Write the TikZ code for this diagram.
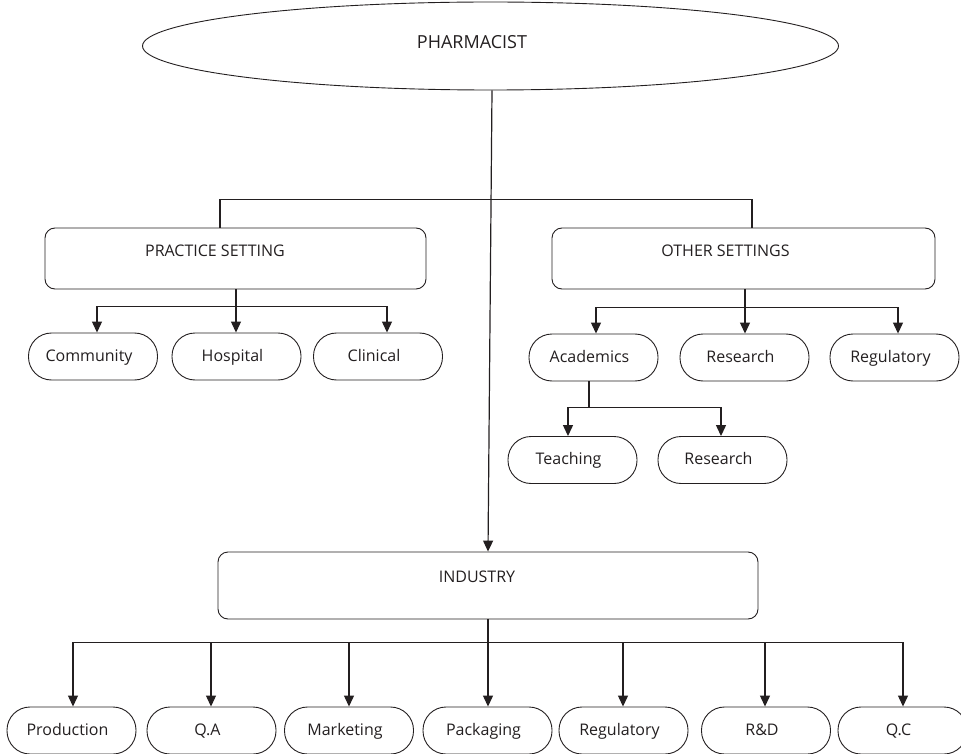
\documentclass[tikz,border=0pt]{standalone}
\usepackage{fontspec}
\setmainfont{Open Sans}
\usetikzlibrary{shapes.geometric,arrows.meta}
\definecolor{ink}{HTML}{231F20}
\begin{document}
\begin{tikzpicture}[x=1pt,y=-1pt,
  font=\fontsize{16}{19}\selectfont,
  every node/.style={text=ink},
  oval/.style={draw=ink,line width=0.9pt,ellipse,inner sep=0pt,minimum width=696pt,minimum height=88pt},
  bigbox/.style={draw=ink,line width=0.9pt,rounded corners=10pt,inner sep=0pt,minimum height=61pt},
  pill/.style={draw=ink,line width=0.9pt,rounded corners=23pt,inner sep=0pt,
    minimum width=129pt,minimum height=47pt,text height=12pt,text depth=3pt,
    execute at end node={\hspace*{8pt}}},
  lbl/.style={inner sep=0pt},
  conn/.style={draw=ink,line width=1.2pt},
  arr/.style={conn,-{Triangle[width=10pt,length=11pt]}}
]
\useasboundingbox (0,0) rectangle (961,754);

% top level
\node[oval] (pharm) at (490.5,46) {};
\node[lbl,font=\fontsize{18}{21}\selectfont] (pharmtxt) at (472,42.5) {PHARMACIST};

% second level boxes
\node[bigbox,minimum width=381pt] (practice) at (235.5,258.5) {};
\node[lbl] (practicetxt) at (215,251) {PRACTICE SETTING};
\node[bigbox,minimum width=383pt] (other) at (743.5,258.5) {};
\node[lbl] (othertxt) at (725.5,251) {OTHER SETTINGS};

% practice settings
\node[pill] (comm) at (93,356.5) {Community};
\node[pill] (hosp) at (236.5,356.5) {Hospital};
\node[pill] (clin) at (378,356.5) {Clinical};

% other settings
\node[pill] (acad) at (593.5,357.5) {Academics};
\node[pill] (res) at (744.5,357.5) {Research};
\node[pill] (regu) at (894.5,357.5) {Regulatory};
\node[pill] (teach) at (572.5,460) {Teaching};
\node[pill] (res2) at (722.5,460) {Research};

% industry
\node[bigbox,minimum width=540pt,minimum height=67pt] (ind) at (488,585.5) {};
\node[lbl] (indtxt) at (477,577) {INDUSTRY};

\node[pill] (prod) at (71.5,730.5) {Production};
\node[pill] (qa) at (211.5,730.5) {Q.A};
\node[pill] (mark) at (349,730.5) {Marketing};
\node[pill] (pack) at (487.5,730.5) {Packaging};
\node[pill] (reg2) at (623.5,730.5) {Regulatory};
\node[pill] (rd) at (766,730.5) {R\&D};
\node[pill] (qc) at (902.5,730.5) {Q.C};

% connectors
\draw[conn] ([xshift=-15.5pt]practice.north) -- ++(0,-28) -| ([xshift=8.5pt]other.north);
\draw[arr] ([xshift=1.5pt]pharm.south) -- (ind.north);

\draw[conn] ([xshift=0.5pt]practice.south) -- ++(0,17) coordinate (pj);
\draw[arr] (pj) -| ([xshift=4pt]comm.north);
\draw[arr] (pj) -- (pj |- hosp.north);
\draw[arr] (pj) -| ([xshift=9pt]clin.north);

\draw[conn] ([xshift=1.5pt]other.south) -- ++(0,18) coordinate (oj);
\draw[arr] (oj) -| ([xshift=2.5pt]acad.north);
\draw[arr] (oj) -- (oj |- res.north);
\draw[arr] (oj) -| ([xshift=3.5pt]regu.north);

\draw[conn] ([xshift=-4.5pt]acad.south) -- ++(0,26) coordinate (aj);
\draw[arr] (aj) -| ([xshift=-4.5pt]teach.north);
\draw[arr] (aj) -| ([xshift=-1.5pt]res2.north);

\draw[conn] (ind.south) -- ++(0,23) coordinate (ij);
\draw[arr] (ij) -| ([xshift=1.5pt]prod.north);
\draw[arr] (ij) -| ([xshift=-0.5pt]qa.north);
\draw[arr] (ij) -| (mark.north);
\draw[arr] (ij) -- (ij |- pack.north);
\draw[arr] (ij) -| ([xshift=-0.5pt]reg2.north);
\draw[arr] (ij) -| ([xshift=-1pt]rd.north);
\draw[arr] (ij) -| ([xshift=0.5pt]qc.north);
\end{tikzpicture}
\end{document}
